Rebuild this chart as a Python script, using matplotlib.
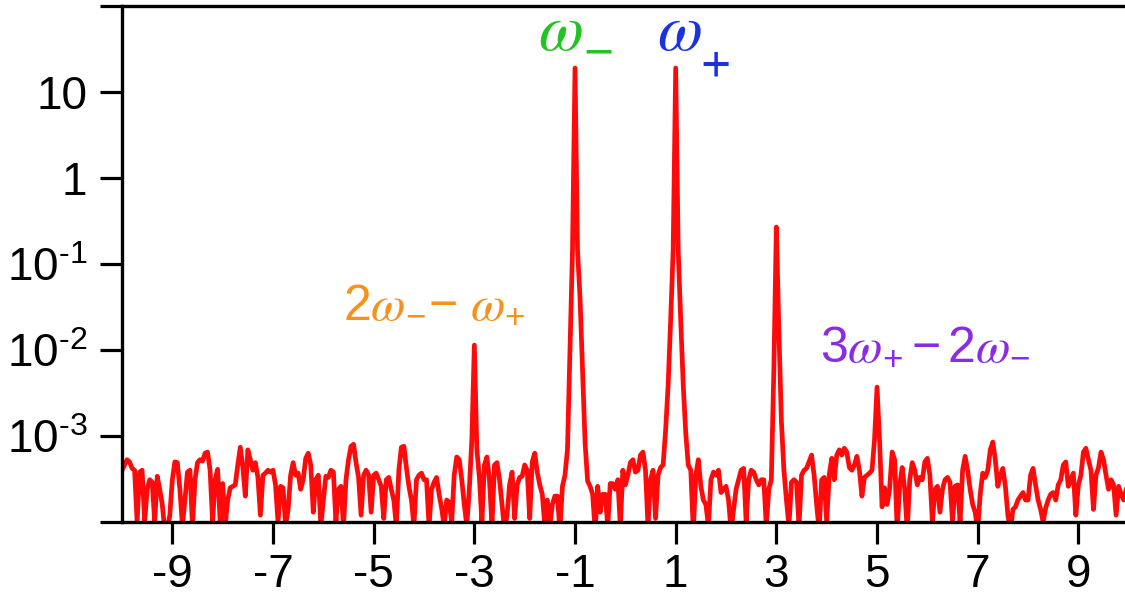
import numpy as np
import matplotlib
matplotlib.use("Agg")
import matplotlib.pyplot as plt
from matplotlib.ticker import FixedLocator, FixedFormatter

# ---------------- data ----------------
# frequency axis (in units of the drive detuning), sampled every 0.05 from -10 to 10
freq_start = -10.0
freq_step = 0.05

# spectral amplitude, in units of 1e-4
amp_1e4 = [
    # i0-23
    4.0, 4.6, 5.3, 5.0, 4.2, 4.0, 1.0, 3.8, 4.0, 1.0, 2.4, 3.1, 2.9, 1.0, 3.4, 2.4, 1.6, 0.8, 0.8, 1.2, 3.1, 5.0, 4.9, 2.4,
    # i24-47
    0.9, 1.8, 3.8, 4.0, 0.9, 3.1, 4.9, 5.3, 5.1, 6.3, 6.5, 4.0, 1.0, 3.1, 4.1, 1.0, 2.8, 0.9, 1.8, 2.5, 2.6, 2.7, 4.6, 7.4,
    # i48-71
    4.4, 2.0, 6.9, 5.3, 4.0, 4.9, 3.3, 1.2, 3.5, 3.7, 4.0, 3.8, 4.0, 2.7, 1.0, 2.6, 2.5, 0.9, 1.4, 3.5, 4.9, 3.5, 3.7, 2.4,
    # i72-95
    3.1, 5.5, 6.3, 4.6, 1.3, 3.1, 3.5, 0.9, 1.8, 3.4, 3.3, 4.0, 3.8, 1.0, 2.4, 2.6, 0.9, 3.1, 5.3, 7.6, 8.0, 4.9, 3.3, 1.2,
    # i96-119
    3.5, 4.0, 3.5, 1.3, 3.5, 3.7, 3.1, 2.6, 1.1, 3.1, 3.3, 2.4, 1.8, 0.9, 4.0, 7.4, 7.6, 4.3, 2.6, 1.8, 0.9, 3.1, 3.5, 3.7,
    # i120-131
    3.1, 3.1, 0.9, 2.4, 2.9, 3.3, 2.1, 1.45, 0.9, 1.8, 1.7, 1.0,
    # i132-143  (peak at -3)
    3.5, 5.7, 5.3, 3.1, 1.6, 0.9, 2.4, 9.0, 114, 7.0, 3.3, 1.0,
    # i144-167
    4.6, 5.7, 3.1, 0.9, 4.6, 4.9, 3.1, 1.6, 0.8, 1.2, 2.7, 3.8, 1.1, 2.7, 3.3, 3.4, 4.6, 4.0, 1.1, 5.0, 6.3, 3.8, 2.7, 2.1,
    # i168-179
    0.9, 1.8, 0.9, 1.6, 2.0, 2.0, 0.8, 2.6, 3.5, 6.9, 95, 1455,
    # i180  (peak at -1)
    190000,
    # i181-191
    1455, 400, 58, 8.3, 3.0, 2.6, 2.1, 0.8, 2.6, 1.3, 2.1,
    # i192-203
    2.1, 0.9, 2.8, 2.8, 2.4, 3.1, 0.9, 4.0, 2.7, 3.5, 4.9, 5.3,
    # i204-214
    3.8, 4.0, 6.0, 6.5, 4.0, 0.9, 3.1, 4.0, 1.1, 3.5, 4.3,
    # i215-219
    4.6, 11.7, 39, 223, 1455,
    # i220  (peak at +1)
    190000,
    # i221-231
    1455, 223, 39, 10.8, 4.6, 4.0, 0.8, 3.5, 5.3, 2.6, 1.8,
    # i232-243
    1.6, 0.9, 3.1, 3.8, 3.5, 4.0, 2.2, 2.4, 2.6, 1.8, 0.8, 1.4,
    # i244-259
    2.4, 3.1, 4.0, 4.2, 1.0, 3.1, 4.0, 3.8, 3.1, 2.7, 3.1, 3.1, 0.9, 2.4, 3.1, 58,
    # i260  (peak at +3)
    2690,
    # i261-271
    170, 15, 4.0, 1.8, 0.9, 2.9, 3.1, 2.9, 0.9, 3.5, 4.0,
    # i272-283
    4.2, 5.0, 6.0, 3.5, 1.6, 0.8, 3.1, 3.3, 1.0, 3.5, 5.5, 3.1,
    # i284-299
    6.0, 6.9, 6.0, 7.2, 6.5, 4.3, 4.0, 4.6, 5.8, 4.0, 2.0, 3.3, 3.5, 3.7, 4.0, 9.0,
    # i300  (peak at +5)
    37,
    # i301-311
    9.0, 1.5, 2.5, 1.6, 2.4, 6.5, 5.3, 0.8, 2.7, 4.3, 2.4,
    # i312-323
    0.8, 3.1, 4.9, 4.0, 2.7, 3.3, 3.1, 5.0, 5.5, 3.5, 1.0, 2.4,
    # i324-335
    2.6, 1.3, 2.4, 3.1, 3.3, 2.9, 1.0, 2.6, 2.7, 1.0, 4.0, 5.8,
    # i336-347
    4.0, 2.4, 1.6, 1.3, 0.8, 2.1, 3.7, 3.3, 4.0, 6.9, 8.5, 5.3,
    # i348-359
    2.6, 3.5, 4.2, 2.6, 1.2, 0.8, 1.4, 1.5, 1.8, 2.0, 2.2, 1.8,
    # i360-371
    1.8, 3.5, 4.2, 2.7, 1.8, 1.4, 1.0, 1.45, 1.8, 2.1, 2.2, 1.8,
    # i372-383
    2.7, 3.1, 4.6, 5.0, 2.6, 3.1, 3.7, 1.2, 2.7, 3.5, 6.5, 7.2,
    # i384-395
    5.3, 4.0, 1.4, 3.5, 4.3, 6.5, 5.3, 3.5, 2.4, 3.1, 2.7, 1.2,
    # i396-400
    2.6, 2.1, 1.8, 2.4, 2.7,
]

x_ticks = [-9, -7, -5, -3, -1, 1, 3, 5, 7, 9]
x_tick_labels = ["-9", "-7", "-5", "-3", "-1", "1", "3", "5", "7", "9"]
y_ticks = [1e-4, 1e-3, 1e-2, 1e-1, 1, 10, 100]
y_tick_labels = ["", r"$10^{\text{-}3}$", r"$10^{\text{-}2}$", r"$10^{\text{-}1}$", "1", "10", ""]

# peak labels: main symbol, subscript sign, colour
peak_symbol = "ω"
peak_subs = ["−", "+"]
peak_sym_x = [-1.73, 0.63]
peak_sym_y = [31, 31]
peak_sub_x = [-0.53, 1.80]
peak_sub_y = [22.5, 16.5]
peak_colors = ["#22c322", "#1a33e0"]

mix_labels = [r"$2\mathit{\omega}_{-}\!-\,\mathit{\omega}_{+}$",
              r"$3\mathit{\omega}_{+}-2\mathit{\omega}_{-}$"]
mix_x = [-5.6, 3.87]
mix_y = [0.0235, 0.0077]
mix_colors = ["#f5921e", "#8a2be6"]

# ---------------- plot ----------------
plt.rcParams["axes.unicode_minus"] = False
plt.rcParams["font.family"] = ["Liberation Sans", "DejaVu Sans"]
plt.rcParams["mathtext.fontset"] = "custom"
plt.rcParams["mathtext.rm"] = "Liberation Sans"
plt.rcParams["mathtext.it"] = "Liberation Sans:italic"
plt.rcParams["mathtext.default"] = "regular"

amp = np.array(amp_1e4) * 1e-4
freq = freq_start + freq_step * np.arange(len(amp))

fig = plt.figure(figsize=(11.25, 6.06), dpi=100)
ax = fig.add_axes([122 / 1125, (606 - 522) / 606, (1128.7 - 122) / 1125, 516 / 606])

ax.plot(freq, amp, color="#ff0a0a", lw=3.4, solid_joinstyle="round")

ax.set_yscale("log")
ax.set_xlim(-10, 10)
ax.set_ylim(1e-4, 1e2)

ax.xaxis.set_major_locator(FixedLocator(x_ticks))
ax.xaxis.set_major_formatter(FixedFormatter(x_tick_labels))
ax.yaxis.set_major_locator(FixedLocator(y_ticks))
ax.yaxis.set_major_formatter(FixedFormatter(y_tick_labels))
ax.yaxis.set_minor_locator(FixedLocator([]))
ax.xaxis.set_minor_locator(FixedLocator([]))

ax.tick_params(axis="both", which="major", direction="out", length=16, width=2.3,
               labelsize=33, colors="black")
ax.tick_params(axis="y", pad=9)
ax.tick_params(axis="x", pad=6)

for side in ["left", "bottom", "top"]:
    ax.spines[side].set_linewidth(2.4)
ax.spines["right"].set_visible(False)

for sx, sy, bx, by, sub, c in zip(peak_sym_x, peak_sym_y, peak_sub_x, peak_sub_y,
                                  peak_subs, peak_colors):
    ax.text(sx, sy, peak_symbol, color=c, fontsize=47, family="STIXGeneral",
            style="italic", ha="left", va="baseline")
    ax.text(bx, by, sub, color=c, fontsize=29, family="STIXGeneral",
            fontweight="bold", ha="center", va="baseline")

for txt, lx, ly, c in zip(mix_labels, mix_x, mix_y, mix_colors):
    ax.text(lx, ly, txt, color=c, fontsize=36, ha="left", va="baseline",
            math_fontfamily="stix")

fig.savefig("out.png", dpi=100)
